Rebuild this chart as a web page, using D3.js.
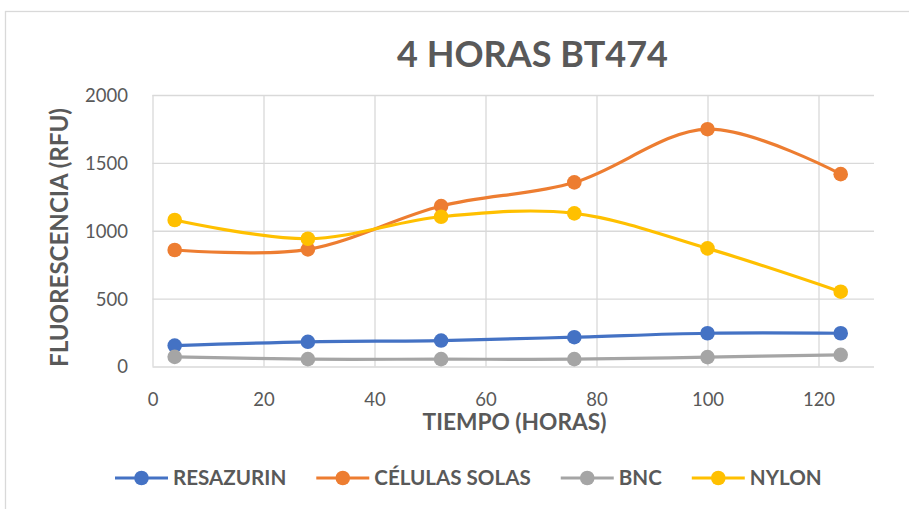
<!DOCTYPE html>
<html>
<head>
<meta charset="utf-8">
<script src="https://cdn.jsdelivr.net/npm/d3@7"></script>
<style>
  body { margin: 0; background: #fff; }
  svg { display: block; font-family: Lato, "Open Sans", sans-serif; }
</style>
</head>
<body>
<div id="chart"></div>
<script>
const hours = [4, 28, 52, 76, 100, 124];
const resazurin = [154, 182, 191, 216, 245, 245];
const celulas = [858, 863, 1182, 1356, 1748, 1417];
const bnc = [71, 54, 54, 54, 69, 86];
const nylon = [1079, 941, 1103, 1128, 870, 551];

const seriesNames = ["RESAZURIN", "CÉLULAS SOLAS", "BNC", "NYLON"];
const seriesColors = ["#4472C4", "#ED7D31", "#A5A5A5", "#FFC000"];
const xTicks = [0, 20, 40, 60, 80, 100, 120];
const yTicks = [0, 500, 1000, 1500, 2000];

const w = 909;
const h = 509;
const plotLeft = 152.5, plotRight = 874, plotTop = 95, plotBottom = 366.5;
const textColor = "#595959";
const gridColor = "#D9D9D9";

const series = [resazurin, celulas, bnc, nylon].map((vals, i) => ({
  name: seriesNames[i],
  color: seriesColors[i],
  values: vals.map((v, j) => ({ x: hours[j], y: v }))
}));

const svg = d3.select("#chart").append("svg")
  .attr("width", w)
  .attr("height", h);

svg.append("rect").attr("width", w).attr("height", h).attr("fill", "#fff");

// chart outer border
svg.append("rect")
  .attr("x", 5.5).attr("y", 11.5)
  .attr("width", 940).attr("height", 540)
  .attr("fill", "none")
  .attr("stroke", gridColor)
  .attr("stroke-width", 1.3);

const xScale = d3.scaleLinear().domain([0, 130]).range([plotLeft, plotRight]);
const yScale = d3.scaleLinear().domain([0, 2000]).range([plotBottom, plotTop]);

// make a text fit a given width by changing its font size
function fit(sel, width) {
  const len = sel.node().getComputedTextLength();
  const size = parseFloat(sel.style("font-size"));
  sel.style("font-size", (size * width / len) + "px");
  return sel;
}

// gridlines
svg.append("g")
  .attr("transform", "translate(" + plotLeft + ",0)")
  .call(d3.axisLeft(yScale).tickValues(yTicks).tickSize(-(plotRight - plotLeft)).tickFormat(""))
  .call(g => g.select(".domain").remove())
  .call(g => g.selectAll("line").attr("stroke", gridColor).attr("stroke-width", 1.3));

svg.append("g")
  .attr("transform", "translate(0," + plotTop + ")")
  .call(d3.axisBottom(xScale).tickValues(xTicks).tickSize(plotBottom - plotTop).tickFormat(""))
  .call(g => g.select(".domain").remove())
  .call(g => g.selectAll("line").attr("stroke", gridColor).attr("stroke-width", 1.3));

// tick labels
const yAxis = svg.append("g")
  .attr("transform", "translate(" + plotLeft + ",0)")
  .call(d3.axisLeft(yScale).tickValues(yTicks).tickFormat(d3.format("d")).tickSize(0).tickPadding(24.5));
yAxis.select(".domain").remove();
yAxis.selectAll("text")
  .attr("fill", textColor)
  .style("font-size", "18.5px")
  .style("font-family", "Lato, sans-serif")
  .attr("dy", "0.35em");

const xAxis = svg.append("g")
  .attr("transform", "translate(0," + plotBottom + ")")
  .call(d3.axisBottom(xScale).tickValues(xTicks).tickSize(0));
xAxis.select(".domain").remove();
xAxis.selectAll("text")
  .attr("fill", textColor)
  .style("font-size", "18.5px")
  .style("font-family", "Lato, sans-serif")
  .attr("y", 39.5)
  .attr("dy", 0);

// title
svg.append("text")
  .attr("x", 532.5).attr("y", 66.5)
  .attr("text-anchor", "middle")
  .attr("fill", textColor)
  .style("font-weight", "bold")
  .style("font-size", "34px")
  .text("4 HORAS BT474")
  .call(fit, 271);

// axis titles
svg.append("text")
  .attr("x", 514.5).attr("y", 430)
  .attr("text-anchor", "middle")
  .attr("fill", textColor)
  .style("font-weight", "bold")
  .style("font-size", "19px")
  .text("TIEMPO (HORAS)")
  .call(fit, 184);

svg.append("text")
  .attr("transform", "translate(60,237.5) rotate(-90)")
  .attr("text-anchor", "middle")
  .attr("dy", "0.35em")
  .attr("fill", textColor)
  .style("font-weight", "bold")
  .style("font-size", "19px")
  .text("FLUORESCENCIA (RFU)")
  .call(fit, 259);

// lines and markers
const line = d3.line()
  .x(d => xScale(d.x))
  .y(d => yScale(d.y))
  .curve(d3.curveCatmullRom.alpha(0));

series.forEach(s => {
  const g = svg.append("g");
  g.append("path")
    .attr("d", line(s.values))
    .attr("fill", "none")
    .attr("stroke", s.color)
    .attr("stroke-width", 3.2)
    .attr("stroke-linecap", "round");
  g.selectAll("circle")
    .data(s.values)
    .enter()
    .append("circle")
    .attr("cx", d => xScale(d.x))
    .attr("cy", d => yScale(d.y))
    .attr("r", 7.3)
    .attr("fill", s.color);
});

// legend, spread from x=115 to x=822
const legend = svg.append("g").attr("transform", "translate(0,478)");
const items = legend.selectAll("g")
  .data(series)
  .enter()
  .append("g");
items.append("line")
  .attr("x1", 0).attr("x2", 53)
  .attr("stroke", d => d.color)
  .attr("stroke-width", 3.2);
items.append("circle")
  .attr("cx", 26.5).attr("r", 7.3)
  .attr("fill", d => d.color);
const labels = items.append("text")
  .attr("x", 58)
  .attr("dy", "0.36em")
  .attr("fill", textColor)
  .style("font-weight", "bold")
  .style("font-size", "19px")
  .text(d => d.name);

const gap = 30;
let sumW = 0;
labels.each(function () { sumW += this.getComputedTextLength(); });
const legSize = 19 * (707 - 4 * 58 - 3 * gap) / sumW;
labels.style("font-size", legSize + "px");

let pos = 115;
const starts = [];
items.each(function () {
  starts.push(pos);
  pos += 58 + d3.select(this).select("text").node().getComputedTextLength() + gap;
});
items.attr("transform", (d, i) => "translate(" + starts[i] + ",0)");
</script>
</body>
</html>
